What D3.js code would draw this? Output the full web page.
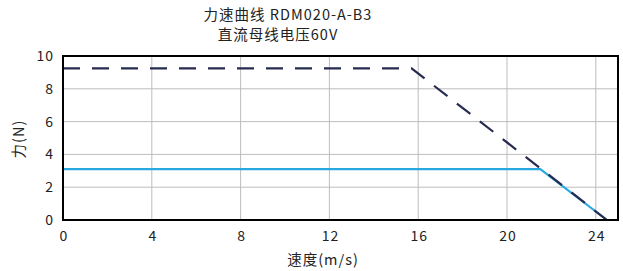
<!DOCTYPE html>
<html><head><meta charset="utf-8">
<script src="https://cdn.jsdelivr.net/npm/d3@7"></script>
<style>body{margin:0;background:#fff}text{font-family:"Noto Sans CJK SC","Noto Sans",sans-serif;fill:#222;letter-spacing:1px}</style>
</head><body><svg id="c" width="623" height="271"></svg>
<script>
const titleLines = ["力速曲线 RDM020-A-B3", "直流母线电压60V"];
const xTicks = [0, 4, 8, 12, 16, 20, 24];
const yTicks = [0, 2, 4, 6, 8, 10];
const xLabel = "速度(m/s)";
const yLabel = "力(N)";
const peakSpeed = [0, 15.7, 24.5];
const peakForce = [9.25, 9.25, 0];
const contSpeed = [0, 21.5, 24.5];
const contForce = [3.1, 3.1, 0];

const svg = d3.select("#c");
const m = {l: 63, r: 618, t: 56, b: 220};
const x = d3.scaleLinear().domain([0, 25]).range([m.l, m.r]);
const y = d3.scaleLinear().domain([0, 10]).range([m.b, m.t]);

// grid
svg.append("g").selectAll("line").data(xTicks.filter(d => d > 0)).join("line")
  .attr("x1", d => x(d)).attr("x2", d => x(d)).attr("y1", m.t).attr("y2", m.b)
  .attr("stroke", "#bdbdbd").attr("stroke-width", 1);
svg.append("g").selectAll("line").data(yTicks.filter(d => d > 0 && d < 10)).join("line")
  .attr("x1", m.l).attr("x2", m.r).attr("y1", d => y(d)).attr("y2", d => y(d))
  .attr("stroke", "#bdbdbd").attr("stroke-width", 1);

const line = d3.line().x(d => x(d[0])).y(d => y(d[1]));
svg.append("path").datum(contSpeed.map((s, i) => [s, contForce[i]]))
  .attr("d", line).attr("fill", "none").attr("stroke", "#29a8e0").attr("stroke-width", 2.2);
svg.append("path").datum(peakSpeed.map((s, i) => [s, peakForce[i]]))
  .attr("d", line).attr("fill", "none").attr("stroke", "#272b50").attr("stroke-width", 2.2)
  .attr("stroke-dasharray", "17,12");

// frame
svg.append("rect").attr("x", m.l).attr("y", m.t).attr("width", m.r - m.l).attr("height", m.b - m.t)
  .attr("fill", "none").attr("stroke", "#000").attr("stroke-width", 2);

// axes
const xa = svg.append("g").attr("transform", `translate(0,${m.b})`)
  .call(d3.axisBottom(x).tickValues(xTicks).tickSize(0).tickPadding(11));
xa.select(".domain").remove();
xa.selectAll("text").attr("font-size", 14).style("font-family", '"Noto Sans CJK SC"').attr("fill", "#222").attr("dx", "0.5");
const ya = svg.append("g").attr("transform", `translate(${m.l},0)`)
  .call(d3.axisLeft(y).tickValues(yTicks).tickSize(0).tickPadding(9));
ya.select(".domain").remove();
ya.selectAll("text").attr("font-size", 14).style("font-family", '"Noto Sans CJK SC"').attr("fill", "#222");

svg.append("text").attr("x", 323).attr("y", 265).attr("text-anchor", "middle")
  .attr("font-size", 14.5).text(xLabel);
svg.append("text").attr("transform", "translate(24,139) rotate(-90)").attr("text-anchor", "middle")
  .attr("font-size", 14.5).text(yLabel);

svg.selectAll(".title").data(titleLines).join("text").attr("class", "title")
  .attr("x", (d, i) => i === 0 ? 288 : 278).attr("y", (d, i) => 20 + i * 20)
  .attr("text-anchor", "middle").attr("font-size", 14.5).text(d => d);
</script></body></html>
